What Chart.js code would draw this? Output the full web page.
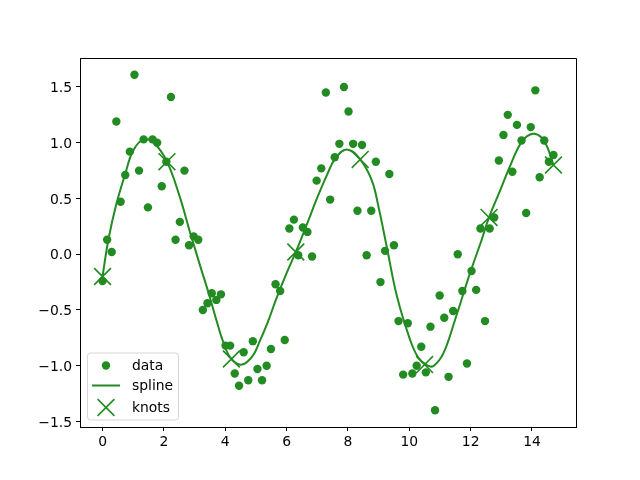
<!DOCTYPE html>
<html>
<head>
<meta charset="utf-8">
<script src="https://cdn.jsdelivr.net/npm/chart.js@4.4.0/dist/chart.umd.min.js"></script>
<style>
  html, body { margin: 0; padding: 0; background: #fff; }
  canvas { display: block; }
</style>
</head>
<body>
<canvas id="chart" width="640" height="480"></canvas>
<script>
// noisy samples
const dataX = [0, 0.15, 0.30, 0.45, 0.59, 0.74, 0.89, 1.04, 1.19, 1.34,
  1.48, 1.63, 1.78, 1.93, 2.08, 2.23, 2.38, 2.52, 2.67, 2.82,
  2.97, 3.12, 3.27, 3.42, 3.56, 3.71, 3.86, 4.01, 4.16, 4.31,
  4.45, 4.60, 4.75, 4.90, 5.05, 5.20, 5.35, 5.49, 5.64, 5.79,
  5.94, 6.09, 6.24, 6.38, 6.53, 6.68, 6.83, 6.98, 7.13, 7.28,
  7.42, 7.57, 7.72, 7.87, 8.02, 8.17, 8.31, 8.46, 8.61, 8.76,
  8.91, 9.06, 9.21, 9.35, 9.50, 9.65, 9.80, 9.95, 10.10, 10.24,
  10.39, 10.54, 10.69, 10.84, 10.99, 11.14, 11.28, 11.43, 11.58, 11.73,
  11.88, 12.03, 12.18, 12.32, 12.47, 12.62, 12.77, 12.92, 13.07, 13.21,
  13.36, 13.51, 13.66, 13.81, 13.96, 14.11, 14.25, 14.40, 14.55, 14.70];
const dataY = [-0.24, 0.13, 0.02, 1.19, 0.47, 0.71, 0.92, 1.61, 0.75, 1.03,
  0.42, 1.03, 1.00, 0.61, 0.83, 1.41, 0.13, 0.29, 0.75, 0.08,
  0.16, 0.13, -0.50, -0.44, -0.35, -0.41, -0.36, -0.82, -0.82, -1.07,
  -1.18, -0.88, -1.13, -0.78, -1.03, -1.13, -1.00, -0.85, -0.27, -0.33,
  -0.77, 0.23, 0.31, -0.01, 0.24, 0.20, -0.02, 0.66, 0.77, 1.45,
  0.49, 0.87, 0.99, 1.50, 1.28, 0.99, 0.39, 0.98, -0.01, 0.39,
  0.83, -0.25, 0.03, 0.72, 0.08, -0.60, -1.08, -0.62, -1.07, -1.00,
  -0.83, -1.06, -0.65, -1.40, -0.37, -0.57, -1.10, -0.51, 0.00, -0.33,
  -0.98, -0.15, -0.32, 0.23, -0.60, 0.23, 0.33, 0.84, 1.07, 1.25,
  0.74, 1.16, 1.02, 0.37, 1.14, 1.47, 0.69, 1.02, 0.83, 0.89];

// fitted curve
const splineX = [0, 0.19, 0.45, 0.75, 1.0, 1.34, 1.7, 2.1, 2.5, 2.87,
  3.2, 3.46, 3.7, 3.95, 4.2, 4.55, 4.9, 5.14, 5.4, 5.69,
  6.0, 6.3, 6.65, 6.99, 7.3, 7.59, 7.97, 8.4, 8.78, 9.0,
  9.27, 9.6, 10.03, 10.3, 10.6, 10.8, 11.11, 11.49, 11.98, 12.36,
  12.6, 12.96, 13.3, 13.67, 14.02, 14.3, 14.5, 14.7];
const splineY = [-0.20, 0.13, 0.45, 0.73, 0.93, 1.03, 0.99, 0.83, 0.53, 0.18,
  -0.12, -0.35, -0.58, -0.80, -0.94, -0.99, -0.91, -0.77, -0.60, -0.38,
  -0.17, 0.02, 0.26, 0.50, 0.70, 0.86, 0.94, 0.85, 0.66, 0.42,
  0.06, -0.38, -0.77, -0.93, -1.00, -1.00, -0.89, -0.59, -0.17, 0.13,
  0.33, 0.57, 0.80, 1.01, 1.08, 1.05, 0.96, 0.80];

const knotX = [0, 2.1, 4.2, 6.3, 8.4, 10.5, 12.6, 14.7];
const knotY = [-0.20, 0.83, -0.94, 0.02, 0.85, -0.99, 0.33, 0.80];

const xTicks = [0, 2, 4, 6, 8, 10, 12, 14];
const yTicks = [-1.5, -1.0, -0.5, 0.0, 0.5, 1.0, 1.5];
const legendLabels = ['data', 'spline', 'knots'];

const GREEN = '#228b22';
const toPoints = (xs, ys) => xs.map((x, i) => ({ x: x, y: ys[i] }));

Chart.defaults.font.family = "'DejaVu Sans', sans-serif";
Chart.defaults.font.size = 13.9;
Chart.defaults.color = '#000';

// top/right spines, like matplotlib's full frame
const framePlugin = {
  id: 'frame',
  afterDatasetsDraw(chart) {
    const a = chart.chartArea;
    const ctx = chart.ctx;
    ctx.save();
    ctx.strokeStyle = '#000';
    ctx.lineWidth = 1;
    ctx.beginPath();
    ctx.moveTo(Math.round(a.left) + 0.5, Math.round(a.top) + 0.5);
    ctx.lineTo(Math.round(a.right) + 0.5, Math.round(a.top) + 0.5);
    ctx.lineTo(Math.round(a.right) + 0.5, Math.round(a.bottom) + 0.5);
    ctx.stroke();
    ctx.restore();
  }
};

// legend box in the lower left corner of the axes
const boxLegend = {
  id: 'boxLegend',
  afterDraw(chart) {
    const a = chart.chartArea;
    const ctx = chart.ctx;
    const x0 = a.left + 7.5, y0 = a.bottom - 74;
    const w = 91, h = 67;
    ctx.save();
    ctx.fillStyle = 'rgba(255,255,255,0.8)';
    ctx.strokeStyle = 'rgba(204,204,204,0.8)';
    ctx.lineWidth = 1;
    ctx.beginPath();
    ctx.roundRect(x0, y0, w, h, 3);
    ctx.fill();
    ctx.stroke();

    const sx = x0 + 18.5;
    const rows = [y0 + 12.5, y0 + 32.5, y0 + 54.5];
    ctx.fillStyle = GREEN;
    ctx.strokeStyle = GREEN;
    // data
    ctx.beginPath();
    ctx.arc(sx, rows[0], 4.2, 0, Math.PI * 2);
    ctx.fill();
    // spline
    ctx.lineWidth = 2;
    ctx.beginPath();
    ctx.moveTo(sx - 14, rows[1]);
    ctx.lineTo(sx + 14, rows[1]);
    ctx.stroke();
    // knots
    const k = 8.4;
    ctx.lineWidth = 1.6;
    ctx.beginPath();
    ctx.moveTo(sx - k, rows[2] - k);
    ctx.lineTo(sx + k, rows[2] + k);
    ctx.moveTo(sx - k, rows[2] + k);
    ctx.lineTo(sx + k, rows[2] - k);
    ctx.stroke();

    ctx.fillStyle = '#000';
    ctx.font = "13.9px 'DejaVu Sans', sans-serif";
    ctx.textBaseline = 'middle';
    ctx.textAlign = 'left';
    legendLabels.forEach((t, i) => ctx.fillText(t, x0 + 44.5, rows[i] + 1.2));
    ctx.restore();
  }
};

new Chart(document.getElementById('chart').getContext('2d'), {
  type: 'scatter',
  data: {
    datasets: [
      {
        label: legendLabels[2],
        data: toPoints(knotX, knotY),
        pointStyle: 'crossRot',
        pointRadius: 11.9,
        borderColor: GREEN,
        borderWidth: 1.6,
        backgroundColor: GREEN
      },
      {
        label: legendLabels[1],
        type: 'line',
        data: toPoints(splineX, splineY),
        borderColor: GREEN,
        borderWidth: 2,
        pointRadius: 0,
        tension: 0.4,
        fill: false
      },
      {
        label: legendLabels[0],
        data: toPoints(dataX, dataY),
        pointRadius: 4.2,
        borderWidth: 0,
        backgroundColor: GREEN
      }
    ]
  },
  options: {
    responsive: false,
    animation: false,
    devicePixelRatio: 1,
    layout: { padding: { left: 0, right: 64, top: 58, bottom: 0 } },
    plugins: {
      legend: { display: false },
      tooltip: { enabled: false }
    },
    scales: {
      x: {
        type: 'linear',
        min: -0.735,
        max: 15.435,
        afterBuildTicks: (scale) => { scale.ticks = xTicks.map(v => ({ value: v })); },
        afterFit: (scale) => { scale.height = 53; },
        grid: { drawOnChartArea: false, drawTicks: true, tickLength: 4, tickColor: '#000', tickWidth: 1 },
        border: { display: true, color: '#000', width: 1 },
        ticks: { padding: 3, maxRotation: 0, callback: (v) => String(v) }
      },
      y: {
        type: 'linear',
        min: -1.55,
        max: 1.76,
        afterBuildTicks: (scale) => { scale.ticks = yTicks.map(v => ({ value: v })); },
        afterFit: (scale) => { scale.width = 80; },
        grid: { drawOnChartArea: false, drawTicks: true, tickLength: 4, tickColor: '#000', tickWidth: 1 },
        border: { display: true, color: '#000', width: 1 },
        ticks: { padding: 4, labelOffset: 1.5, callback: (v) => v.toFixed(1).replace('-', '\u2212') }
      }
    }
  },
  plugins: [framePlugin, boxLegend]
});
</script>
</body>
</html>
